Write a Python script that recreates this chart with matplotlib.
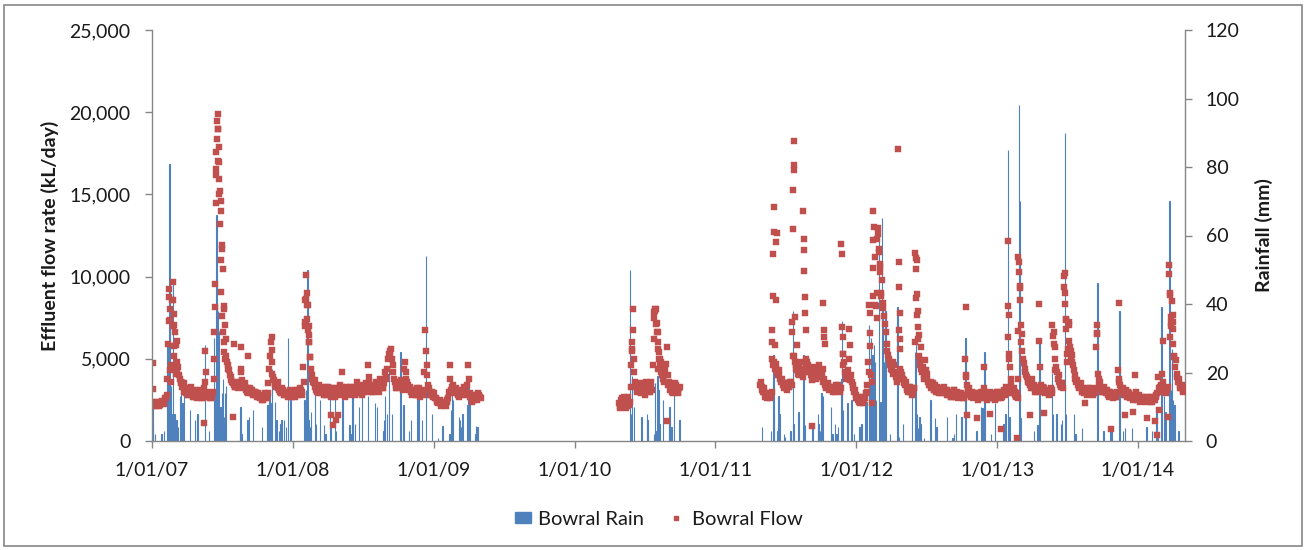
import numpy as np
import pandas as pd
import matplotlib
matplotlib.use('Agg')
import matplotlib.pyplot as plt
import matplotlib.dates as mdates
from matplotlib.patches import Rectangle, Patch
from matplotlib.lines import Line2D
from matplotlib.ticker import FuncFormatter, MultipleLocator

# ---- data ----
# flow (kL/day): "a" readings every 4 days from the period start,
# "b" readings every 4 days starting 2 days later
flow1_start = '2007-01-01'
flow1_a = [2300, 2250, 2200, 2280, 2250, 2300, 2350, 2400, 2450, 2600,
           3800, 7300, 3600, 8600, 5800, 4500, 4300, 4500, 3800, 3500,
           3300, 3000, 2900, 3200, 2800, 3300, 2900, 2700, 3100, 2600,
           2800, 3000, 2700, 2600, 2900, 4200, 2700, 2800, 2600, 2700,
           3800, 8150, 18400, 17050, 13170, 9060, 6640, 5420, 5200, 4600,
           4300, 3900, 3600, 3400, 3300, 3500, 3200, 3600, 4400, 3400,
           3300, 3100, 3200, 3000, 2900, 3100, 2800, 3000, 2700, 2900,
           2600, 2700, 2500, 2600, 2800, 2900, 4400, 6000, 4100, 3700,
           3500, 3400, 3200, 3000, 2900, 3100, 2800, 3000, 2700, 2900,
           2800, 2700, 3000, 2800, 3100, 2900, 3200, 2800, 4500, 7000,
           10070, 8250, 6000, 4400, 3800, 3500, 3300, 3000, 3400, 3100,
           2900, 3200, 3000, 2800, 3300, 3100, 2700, 3000, 3200, 2800,
           3100, 2900, 3400, 4200, 3000, 2700, 2900, 3200, 3000, 2800,
           3100, 3300, 2900, 3600, 3200, 3000, 2800, 3400, 3100, 3300,
           4600, 3500, 3200, 3000, 3400, 3600, 3100, 3300, 3800, 3500,
           3200, 4200, 3900, 5000, 5500, 5600, 4600, 3800, 3400, 3200,
           3600, 3300, 3500, 3200, 4800, 3800, 3400, 3200, 3000, 2900,
           3100, 2800, 3000, 3200, 2700, 2900, 3100, 6740, 4600, 3400,
           3000, 2800, 2700, 2900, 2600, 2500, 2400, 2300, 2200, 2400,
           2300, 2500, 2600, 4600, 3100, 3400, 2900, 3200, 3000, 2700,
           3100, 2800, 3300, 3200, 2900, 4600, 2700, 2600, 2800, 2500,
           2700, 2600, 2800, 2600]
flow1_b = [2150, 2400, 2100, 2350, 2150, 2200, 2450, 2250, 2600, 2800,
           5900, 4300, 4600, 7000, 5200, 4100, 4800, 4000, 3600, 3300,
           3500, 3200, 3100, 2800, 3000, 3100, 2700, 3000, 2800, 2900,
           3100, 2600, 2900, 3200, 3600, 3000, 2900, 2600, 2800, 3000,
           5000, 14500, 19000, 15000, 11000, 7600, 6000, 5000, 4800, 4400,
           4000, 3700, 3500, 3300, 3600, 3300, 3400, 4200, 3700, 3200,
           3500, 3000, 2900, 3200, 3100, 2800, 3000, 2900, 2800, 2700,
           2800, 2500, 2700, 2900, 2600, 3500, 5200, 4800, 3900, 3400,
           3300, 3600, 3100, 2900, 3200, 2800, 3000, 2900, 2800, 3100,
           3000, 2900, 2700, 3100, 2800, 3000, 3100, 3000, 3600, 8600,
           9000, 7000, 5100, 4000, 3600, 3700, 3100, 3200, 2900, 3300,
           3100, 2800, 3300, 3000, 2900, 2800, 3200, 2900, 2700, 3100,
           2800, 3200, 3000, 3300, 2800, 3100, 3300, 2900, 3300, 3100,
           3000, 2800, 3200, 3300, 2900, 3300, 3100, 3000, 3500, 3000,
           3900, 3300, 3000, 3300, 3200, 3300, 3500, 3000, 3400, 3200,
           3500, 3800, 4400, 5300, 5200, 5000, 4200, 3600, 3200, 3500,
           3400, 3700, 3100, 4400, 4200, 3600, 3100, 3300, 2800, 3100,
           2900, 3200, 2800, 2900, 3000, 2800, 4200, 5500, 4000, 3200,
           2800, 3000, 2900, 2600, 2400, 2300, 2500, 2100, 2300, 2200,
           2100, 2400, 3000, 3800, 3300, 3000, 3100, 2900, 2800, 3000,
           2900, 3100, 3000, 2800, 3400, 3800, 2900, 2400, 2600, 2800,
           2500, 2900, 2700]
flow1_xday = [2, 3, 43, 45, 46, 47, 54, 55, 57, 58, 59, 61, 66, 134, 137,
              162, 163, 165, 166, 167, 169, 170, 171, 173, 174, 175, 177,
              178, 179, 181, 182, 184, 186, 187, 189, 191, 210, 212, 231,
              249, 310, 312, 398, 399, 401, 403, 404, 406, 408, 410, 464,
              470, 477, 483]
flow1_xval = [4750, 3150, 9270, 8740, 8050, 7340, 9670, 8600, 7750, 7040,
              6640, 5830, 6070, 1070, 5460, 6600, 9570, 16150, 16550, 17560,
              19480, 19890, 18980, 17860, 16950, 15940, 15230, 14570, 14020,
              11900, 11690, 10480, 8210, 8050, 7040, 6230, 1480, 5870, 5730,
              5160, 5520, 6330, 7240, 8660, 7450, 8250, 6740, 6430, 6030,
              5120, 1580, 970, 1300, 1580]

flow2_start = '2010-04-26'
flow2_a = [2300, 2000, 2600, 2200, 2400, 2100, 2700, 2400, 4600, 6740,
           4200, 3400, 3000, 3300, 2900, 3200, 3500, 2800, 3100, 3400,
           3000, 3600, 4600, 7500, 8000, 6600, 5000, 4400, 4000, 3600,
           4400, 5700, 3400, 3100, 3300, 2900, 3200, 3400, 3000, 3200]
flow2_b = [2100, 2500, 2300, 2700, 2000, 2500, 2200, 3300, 5500, 5000,
           3600, 3100, 3500, 3000, 3400, 3100, 3300, 3600, 3200, 3000,
           3300, 3100, 6200, 7900, 7200, 5600, 4700, 4200, 3800, 4000,
           4700, 4000, 3600, 3300, 3000, 3200, 3500, 3100, 2900, 3300]
flow2_xday = [33, 35, 37, 92, 94, 96, 99, 100, 102, 105, 107, 110, 124]
flow2_xval = [6030, 5620, 8010, 7850, 8050, 7140, 6640, 4400, 6030, 5400,
              5000, 4800, 1230]

flow3_start = '2011-04-27'
flow3_a = [3400, 3300, 3000, 2900, 2800, 2700, 2800, 2750, 5000, 4800,
           4400, 4200, 4000, 3800, 3600, 3400, 3300, 3200, 3500, 3300,
           3600, 7240, 5200, 4600, 4300, 4000, 4800, 4200, 3900, 4400,
           5000, 4600, 4200, 4000, 3800, 4500, 4100, 3900, 4600, 4200,
           4000, 3600, 3400, 3200, 3500, 3100, 3300, 3000, 3200, 3400,
           3100, 3300, 3000, 6940, 4600, 4200, 3800, 4300, 3700, 4000,
           3400, 3000, 2800, 2600, 2400, 2300, 2500, 2700, 2600, 3000,
           4800, 7810, 4000, 8800, 13010, 8200, 7500, 11690, 10580, 9770,
           8110, 7140, 5930, 5220, 4800, 4400, 4100, 4600, 3900, 3600,
           6740, 4400, 4000, 3700, 3400, 3200, 3000, 3300, 3100, 2900,
           3200, 8700, 7690, 5200, 4600, 4200, 4000, 4900, 3800, 3600,
           3400, 3200, 3500, 3100, 3000, 3300, 2900, 3100, 3200, 3000,
           2900, 3100, 2800, 3000, 2700, 2900, 3100, 2800, 2600, 2900,
           2700, 2800, 2600, 4960, 3400, 3000, 2800, 2700, 2600, 2900,
           2700, 2500, 2800, 2600, 2900, 4500, 2700, 2500, 2800, 3000,
           2600, 2800, 2500, 2700, 3000, 2600, 2900, 2700, 3100, 2800,
           3100, 6330, 4500, 3400, 2900, 3000, 2700, 2600, 10280, 7080,
           5460, 4750, 4200, 3900, 3600, 3400, 3800, 3200, 3000, 3300,
           3100, 6070, 3400, 3000, 3200, 2900, 3100, 2800, 3000, 2900,
           6370, 5730, 4500, 3800, 3600, 3300, 3500, 10030, 8350, 5310,
           7240, 5730, 5220, 4600, 4000, 3600, 3400, 3200, 3500, 3000,
           2900, 3100, 2800, 3000, 3200, 2900, 2800, 3000, 5730, 4100,
           3400, 3200, 3000, 3300, 2900, 3100, 2700, 3000, 2800, 2600,
           2900, 2700, 4300, 3600, 3200, 3000, 2800, 3100, 2700, 2900,
           2600, 2800, 2500, 4000, 2700, 2600, 2400, 2700, 2500, 2600,
           2400, 2700, 2500, 2600, 2400, 2700, 2500, 2800, 3900, 3000,
           3400, 6070, 3200, 2900, 3100, 10170, 6330, 8500, 5930, 4500,
           4100, 3600, 3400, 3200, 3000, 3300]
flow3_b = [3600, 3100, 3200, 2700, 2600, 2900, 2600, 3000, 4600, 4400,
           4700, 4000, 4300, 3600, 3800, 3200, 3500, 3100, 3300, 3600,
           3400, 5200, 4800, 4400, 4100, 4500, 4300, 4000, 4200, 4700,
           4800, 4400, 4400, 3700, 4200, 4300, 3800, 4200, 4400, 3900,
           4400, 3800, 3300, 3400, 3300, 3200, 3100, 3300, 3000, 3200,
           3400, 3100, 3200, 5300, 4800, 4000, 4100, 5000, 3900, 3600,
           3200, 3100, 2600, 2500, 2700, 2400, 2300, 2500, 2900, 3400,
           4200, 5800, 3600, 10500, 11200, 9000, 12600, 10300, 9000, 8400,
           7600, 6600, 5500, 5000, 4600, 4300, 4800, 4200, 3700, 3900,
           5600, 4200, 3800, 3500, 3600, 3100, 3300, 3000, 2800, 3200,
           6000, 11000, 6200, 4900, 4400, 4500, 3800, 4300, 4100, 3400,
           3600, 3300, 3100, 3400, 3200, 3000, 3200, 2900, 3000, 3300,
           3100, 2800, 3000, 2700, 2900, 3100, 2700, 3000, 2800, 2700,
           2900, 2600, 2800, 3900, 3100, 3200, 2900, 3000, 2800, 2700,
           2900, 2800, 2600, 3000, 3000, 3200, 2900, 2800, 2600, 2800,
           2900, 2600, 2800, 3000, 2800, 2900, 2600, 3000, 2900, 3300,
           2900, 5000, 3800, 3100, 3200, 2800, 2900, 3800, 8600, 6500,
           5000, 4400, 4000, 3700, 3500, 3200, 3300, 3400, 3200, 3000,
           3300, 4500, 3200, 3300, 3000, 3100, 2900, 3000, 3200, 3100,
           5900, 5000, 4200, 4000, 3400, 3500, 3200, 9000, 6800, 5600,
           6100, 5500, 4800, 4300, 3800, 3700, 3300, 3400, 3100, 3200,
           3100, 2900, 3200, 2900, 3000, 3100, 2900, 3200, 6500, 3800,
           3600, 3000, 3200, 3000, 3100, 2800, 3000, 2900, 2700, 2800,
           2700, 3000, 3800, 3400, 3000, 3200, 2900, 2800, 3000, 2700,
           2800, 2700, 2700, 3000, 2500, 2800, 2600, 2500, 2700, 2500,
           2600, 2500, 2700, 2400, 2600, 2500, 2700, 2900, 3200, 3300,
           4100, 3600, 3000, 3200, 3300, 9000, 7200, 6800, 5200, 4900,
           3900, 3800, 3200, 3400, 3100, 3200]
flow3_xday = [31, 32, 33, 34, 35, 37, 38, 41, 42, 43, 83, 85, 86, 87, 88,
              89, 90, 96, 112, 113, 114, 115, 116, 117, 118, 135, 163, 165,
              167, 168, 211, 213, 215, 216, 230, 232, 283, 285, 290, 293,
              294, 298, 303, 305, 309, 311, 313, 358, 359, 361, 362, 364,
              403, 404, 405, 406, 409, 410, 411, 418, 534, 535, 536, 563,
              596, 625, 642, 643, 645, 646, 667, 669, 670, 671, 673, 674,
              677, 701, 723, 736, 758, 761, 765, 789, 790, 793, 794, 797,
              802, 805, 807, 842, 874, 875, 910, 930, 947, 966, 1003, 1023,
              1029, 1034, 1059, 1061, 1063, 1065, 1066, 1070, 1071, 1074]
flow3_xval = [6030, 6740, 8800, 11390, 12700, 14220, 5830, 8600, 12100,
              12640, 6640, 12900, 15290, 16510, 16810, 18270, 7550, 5830,
              14020, 12300, 11590, 10340, 8740, 7810, 6740, 930, 8400, 6740,
              6300, 5900, 11980, 11390, 6300, 5310, 6840, 5830, 8250, 6540,
              2290, 14020, 12200, 8290, 12300, 12950, 11500, 10780, 8800,
              17760, 10880, 9350, 7790, 6200, 11430, 11130, 10440, 8960,
              7910, 6940, 6440, 5700, 8130, 4000, 1580, 1420, 1640, 730,
              12160, 8190, 7650, 5320, 200, 6680, 11190, 10880, 9430, 9300,
              6030, 1580, 8310, 1680, 7080, 6600, 4300, 9370, 10240, 7430,
              7370, 4800, 7080, 5360, 5020, 2290, 7080, 6540, 710, 8410,
              1580, 1780, 1380, 1230, 360, 1880, 1440, 10680, 8860, 7550,
              7000, 7650, 7240, 5120]

# daily rainfall (mm), days counted from each period start
rain1_day = [1, 3, 8, 25, 31, 40, 41, 45, 47, 49, 53, 55, 58, 60, 64, 67,
             72, 76, 79, 83, 98, 112, 116, 118, 137, 148, 160, 163, 167,
             169, 171, 173, 178, 182, 184, 186, 190, 192, 228, 230, 232,
             248, 251, 262, 285, 300, 303, 305, 310, 312, 319, 323, 330,
             333, 336, 343, 347, 353, 359, 395, 399, 403, 406, 409, 413,
             423, 425, 435, 446, 450, 461, 464, 475, 477, 494, 512, 515,
             520, 526, 537, 545, 560, 578, 583, 600, 602, 604, 610, 614,
             622, 644, 652, 667, 671, 689, 691, 701, 711, 726, 741, 753,
             772, 775, 778, 780, 796, 798, 802, 805, 818, 821, 823, 839,
             841, 844]
rain1_mm = [11.5, 5, 2, 2, 3, 29, 22, 81, 8, 16, 8, 46, 8, 7, 6, 4,
            13, 18, 11, 18, 9, 6, 4.5, 8, 28, 3, 30, 14, 66,
            40, 38, 32, 10, 14, 18, 7, 14, 16, 3, 10, 2,
            6, 7, 9, 4, 10.5, 12, 14, 11, 21, 11.5, 6, 3,
            5, 6, 6, 4, 30, 12, 12, 15, 50, 6, 4, 8.5,
            14, 5, 12, 4.6, 2, 13, 4, 14, 3, 12, 4.6, 2,
            14, 5, 10, 13, 13, 11, 10, 3, 6, 13, 8, 21,
            8, 26, 10.5, 3, 6, 12, 16, 6, 54, 8, 1, 4.5,
            2, 9, 14, 12, 7, 6, 4, 8, 10.5, 18, 12, 2,
            4.5, 4]

rain2_day = [29, 31, 34, 39, 58, 72, 74, 76, 91, 94, 97, 100, 103, 105,
             114, 129, 131, 136, 142, 157]
rain2_mm = [50, 8, 19, 10, 7, 8, 6, 2, 2, 17, 3, 19, 15, 5,
            12, 5, 10, 4, 14, 6]

rain3_day = [5, 29, 35, 36, 45, 48, 50, 62, 64, 79, 85, 87, 100, 113, 116,
             134, 137, 150, 152, 155, 159, 163, 184, 188, 194, 198, 202,
             211, 213, 215, 227, 237, 244, 258, 263, 273, 276, 283, 285,
             288, 292, 295, 298, 300, 309, 312, 316, 318, 322, 325, 337,
             356, 360, 371, 394, 401, 404, 407, 409, 413, 416, 425, 442,
             453, 458, 484, 499, 503, 508, 522, 533, 561, 573, 577, 582,
             599, 609, 631, 636, 643, 647, 672, 674, 675, 710, 719, 725,
             757, 759, 769, 780, 783, 790, 794, 814, 818, 835, 875, 891,
             909, 913, 932, 941, 946, 965, 1002, 1016, 1028, 1032, 1041,
             1047, 1051, 1062, 1066, 1068, 1071, 1075, 1085]
rain3_mm = [4, 3, 25, 8, 3, 13, 8, 2, 1.3, 3, 38, 5, 8.5, 25, 4.6,
            4, 3.7, 8, 5, 3, 14, 13, 10, 2, 5, 2, 4,
            18, 35, 9, 11, 12, 2, 4, 5, 12, 11.5, 34, 17,
            30, 25, 28, 23, 12, 63, 11.5, 65, 41, 23, 38, 2,
            39, 1.3, 5, 14, 26, 31, 8, 3.7, 7, 5, 1, 12,
            6.6, 4, 7, 1, 2, 8, 7, 30, 3, 10, 9.5, 26,
            2, 11, 5, 8, 85, 7, 98, 70, 6.6, 3, 4.6, 30,
            20, 8, 8, 5, 6, 90, 8, 8, 2, 3.7, 46, 3,
            4, 3.7, 38, 3, 3.7, 3.7, 4, 3, 10, 2, 39,
            13, 8.5, 70, 15, 27, 12, 10.5, 3]

x_start = '2007-01-01'
x_end = '2014-05-03'

BLUE = '#4F81BD'
RED = '#C0504D'
GREY = '#868686'
TXT = '#1a1a1a'


def dates_every(start, n, offset=0, step=4):
    return pd.Timestamp(start) + pd.to_timedelta(offset + np.arange(n) * step, unit='D')


def dates_from(start, days):
    return pd.Timestamp(start) + pd.to_timedelta(np.asarray(days), unit='D')


def main():
    plt.rcParams['font.family'] = ['Lato', 'DejaVu Sans']

    parts_d, parts_v = [], []
    for start, a, b, xd, xv in [(flow1_start, flow1_a, flow1_b, flow1_xday, flow1_xval),
                                (flow2_start, flow2_a, flow2_b, flow2_xday, flow2_xval),
                                (flow3_start, flow3_a, flow3_b, flow3_xday, flow3_xval)]:
        parts_d += [dates_every(start, len(a)), dates_every(start, len(b), offset=2),
                    dates_from(start, xd)]
        parts_v += [a, b, xv]
    flow_dates = np.concatenate(parts_d)
    flow_vals = np.concatenate(parts_v)

    rain_dates = np.concatenate([dates_from(flow1_start, rain1_day),
                                 dates_from(flow2_start, rain2_day),
                                 dates_from(flow3_start, rain3_day)])
    rain_vals = np.concatenate([rain1_mm, rain2_mm, rain3_mm])

    fig = plt.figure(figsize=(13.07, 5.5), dpi=100)
    ax = fig.add_axes([152 / 1307, 1 - 441 / 550, (1185 - 152) / 1307, (441 - 30) / 550])
    ax2 = ax.twinx()

    # rain bars behind, flow markers on top
    ax2.bar(rain_dates, rain_vals, width=1.0, color=BLUE, edgecolor=BLUE, linewidth=0.8)
    ax.plot(flow_dates, flow_vals, ls='none', marker='s', ms=4.0, color=RED, mec=RED, mew=0.3)
    ax.set_zorder(ax2.get_zorder() + 1)
    ax.patch.set_visible(False)

    ax.set_xlim(pd.Timestamp(x_start), pd.Timestamp(x_end))
    ax.set_ylim(0, 25000)
    ax2.set_ylim(0, 120)
    ax.yaxis.set_major_locator(MultipleLocator(5000))
    ax2.yaxis.set_major_locator(MultipleLocator(20))
    ax.yaxis.set_major_formatter(FuncFormatter(lambda v, p: f'{int(v):,}'))
    ax.xaxis.set_major_locator(mdates.YearLocator())
    ax.xaxis.set_major_formatter(mdates.DateFormatter('%-d/%m/%y'))

    for a in (ax, ax2):
        a.spines['top'].set_visible(False)
        for s in a.spines.values():
            s.set_color(GREY)
            s.set_linewidth(1.0)
        a.tick_params(direction='out', length=5, width=1, color=GREY,
                      labelsize=14, labelcolor=TXT)
    ax.spines['right'].set_visible(False)
    ax2.spines['left'].set_visible(False)
    ax2.spines['bottom'].set_visible(False)
    ax.tick_params(axis='y', pad=10.5)
    ax2.tick_params(axis='y', pad=10)
    ax.tick_params(axis='x', pad=10)

    ax.set_ylabel('Effluent flow rate (kL/day)', fontsize=14, fontweight='bold', color=TXT)
    ax.yaxis.set_label_coords(-0.090, 0.5)
    ax2.set_ylabel('Rainfall (mm)', fontsize=14, fontweight='bold', color=TXT)
    ax2.yaxis.set_label_coords(1.068, 0.5)

    handles = [Patch(facecolor=BLUE, edgecolor=BLUE),
               Line2D([], [], ls='none', marker='s', ms=3, color=RED)]
    fig.legend(handles, ['Bowral Rain', 'Bowral Flow'], loc='center',
               bbox_to_anchor=(0.504, 0.056), ncol=2, frameon=False,
               fontsize=14.5, handlelength=0.8, handleheight=0.5, handletextpad=0.35,
               columnspacing=1.2, labelcolor=TXT)

    fig.add_artist(Rectangle((4 / 1307, 4 / 550), 1 - 9 / 1307, 1 - 9 / 550,
                             transform=fig.transFigure, fill=False,
                             edgecolor=GREY, linewidth=1.2))

    fig.savefig('out.png', dpi=100)


if __name__ == '__main__':
    main()
